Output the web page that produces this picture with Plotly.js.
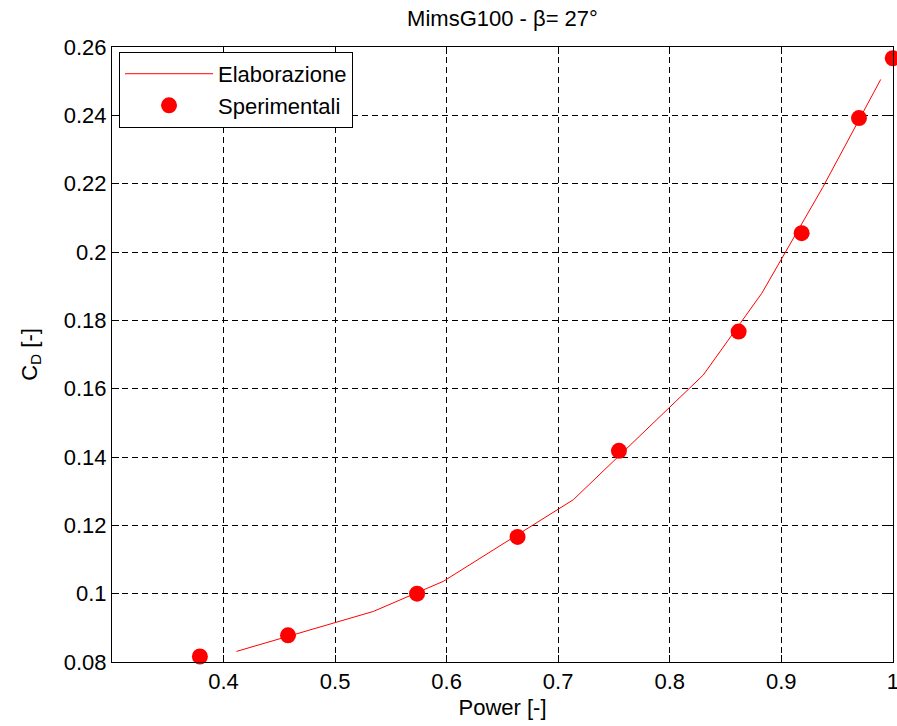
<!DOCTYPE html>
<html>
<head>
<meta charset="utf-8">
<script src="https://cdn.plot.ly/plotly-3.0.1.min.js"></script>
<style>html,body{margin:0;padding:0;background:#fff;}#chart{width:897px;height:726px;}</style>
</head>
<body>
<div id="chart"></div>
<script>
// Elaborazione (line)
const elabPower = [0.4116, 0.5343, 0.597, 0.7136, 0.8301, 0.8825, 0.9372, 0.9892];
const elabCD    = [0.0831, 0.0948, 0.1036, 0.1275, 0.1640, 0.1879, 0.2189, 0.2505];
// Sperimentali (markers)
const expPower = [0.3788, 0.4578, 0.5735, 0.6636, 0.7545, 0.8618, 0.9183, 0.9697, 1.0];
const expCD    = [0.0816, 0.0878, 0.1000, 0.1166, 0.1418, 0.1767, 0.2055, 0.2392, 0.2567];
const xTicks = [0.4, 0.5, 0.6, 0.7, 0.8, 0.9, 1];
const xTickText = ['0.4', '0.5', '0.6', '0.7', '0.8', '0.9', '1'];
const yTicks = [0.08, 0.1, 0.12, 0.14, 0.16, 0.18, 0.2, 0.22, 0.24, 0.26];
const yTickText = ['0.08', '0.1', '0.12', '0.14', '0.16', '0.18', '0.2', '0.22', '0.24', '0.26'];

const font = 'Liberation Sans, Arial, sans-serif';
const fs = 22;

const traces = [
  {x: elabPower, y: elabCD, type: 'scatter', mode: 'lines', name: 'Elaborazione',
   line: {color: '#ff0000', width: 1}},
  {x: expPower, y: expCD, type: 'scatter', mode: 'markers', name: 'Sperimentali',
   marker: {color: '#ff0000', size: 16}, cliponaxis: false}
];

const axisCommon = {
  showline: true, linecolor: '#000', linewidth: 1, mirror: 'ticks',
  ticks: 'inside', ticklen: 7, tickcolor: '#000',
  showgrid: true, gridcolor: '#000', gridwidth: 1, griddash: '6px,4px',
  zeroline: false, tickfont: {family: font, size: fs, color: '#000'},
  ticklabeloverflow: 'allow'
};

const layout = {
  width: 897, height: 726,
  margin: {l: 112, r: 4, t: 47, b: 64},
  paper_bgcolor: '#fff', plot_bgcolor: '#fff',
  showlegend: true,
  title: {text: 'MimsG100 - β= 27°', font: {family: font, size: fs, color: '#000'},
          x: 0.5, xref: 'paper', y: 1 - 18/726, yref: 'container', yanchor: 'middle'},
  xaxis: Object.assign({}, axisCommon, {
    range: [0.3, 1.0002], tickvals: xTicks, ticktext: xTickText,
    title: {text: 'Power [-]', font: {family: font, size: fs, color: '#000'}, standoff: 6}
  }),
  yaxis: Object.assign({}, axisCommon, {
    range: [0.08, 0.26], tickvals: yTicks, ticktext: yTickText, automargin: true,
    title: {text: 'C<sub>D</sub> [-]', font: {family: font, size: fs, color: '#000'}, standoff: 20}
  }),
  legend: {
    x: 0.009, y: 0.992, xanchor: 'left', yanchor: 'top',
    bgcolor: '#fff', bordercolor: '#000', borderwidth: 1,
    font: {family: font, size: fs, color: '#000'},
    itemwidth: 88, tracegroupgap: 0
  }
};

Plotly.newPlot('chart', traces, layout, {displayModeBar: false, staticPlot: true});
</script>
</body>
</html>
